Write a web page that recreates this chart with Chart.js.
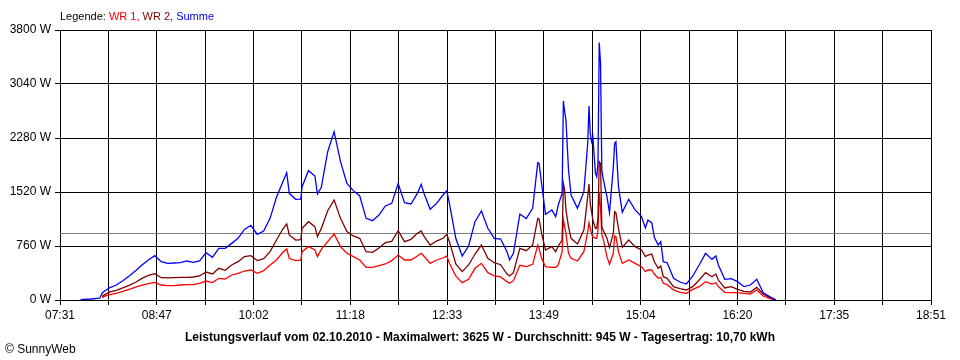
<!DOCTYPE html>
<html>
<head>
<meta charset="utf-8">
<script src="https://cdn.jsdelivr.net/npm/chart.js@4.4.1/dist/chart.umd.min.js"></script>
<style>
  html, body { margin: 0; padding: 0; background: #fff; }
  #wrap { position: relative; width: 960px; height: 360px; }
</style>
</head>
<body>
<div id="wrap"><canvas id="chart" width="960" height="360"></canvas></div>
<script>
// Messzeitpunkte und Leistung in W
const times = [
  '07:47', '07:55', '08:02', '08:04', '08:05', '08:10', '08:15', '08:20', '08:25', '08:30',
  '08:35', '08:40', '08:45', '08:50', '08:55', '09:00', '09:05', '09:10', '09:15', '09:20',
  '09:25', '09:30', '09:35', '09:40', '09:45', '09:50', '09:55', '10:00', '10:05', '10:10',
  '10:15', '10:20', '10:25', '10:28', '10:30', '10:35', '10:39', '10:40', '10:45', '10:50',
  '10:52', '10:55', '11:00', '11:05', '11:10', '11:15', '11:20', '11:25', '11:30', '11:35',
  '11:40', '11:45', '11:50', '11:55', '12:00', '12:05', '12:10', '12:13', '12:15', '12:20',
  '12:25', '12:30', '12:33', '12:35', '12:40', '12:45', '12:50', '12:55', '13:00', '13:05',
  '13:10', '13:15', '13:20', '13:22', '13:25', '13:30', '13:35', '13:40', '13:44', '13:45',
  '13:47', '13:50', '13:55', '13:58', '14:00', '14:03', '14:04', '14:05', '14:06', '14:08',
  '14:10', '14:15', '14:20', '14:23', '14:24', '14:25', '14:26', '14:27', '14:29', '14:30',
  '14:31', '14:32', '14:33', '14:34', '14:35', '14:38', '14:40', '14:43', '14:44', '14:45',
  '14:47', '14:50', '14:55', '15:00', '15:05', '15:08', '15:10', '15:13', '15:15', '15:18',
  '15:20', '15:22', '15:25', '15:30', '15:35', '15:40', '15:45', '15:50', '15:55', '16:00',
  '16:03', '16:05', '16:10', '16:15', '16:20', '16:25', '16:30', '16:35', '16:40', '16:45',
  '16:50'
]
const wr1 = [
  null, null, null, 30, 47, 75, 94, 120, 150, 180,
  210, 232, 249, 211, 202, 202, 211, 216, 216, 235,
  267, 244, 305, 295, 352, 375, 408, 422, 375, 413,
  493, 563, 671, 718, 586, 554, 560, 680, 751, 704,
  610, 713, 821, 929, 751, 657, 610, 563, 460, 460,
  483, 507, 554, 633, 563, 563, 619, 657, 619, 516,
  563, 591, 619, 516, 338, 244, 291, 446, 516, 385,
  338, 324, 258, 235, 272, 488, 469, 502, 774, 727,
  586, 469, 460, 460, 493, 680, 1126, 1032, 938, 657,
  586, 549, 680, 962, 1088, 1009, 929, 891, 868, 868,
  985, 1500, 1300, 915, 868, 610, 502, 657, 901, 891,
  680, 516, 563, 516, 469, 399, 422, 422, 366, 305,
  319, 235, 216, 141, 108, 94, 150, 188, 258, 225,
  244, 188, 108, 103, 103, 94, 84, 141, 56, 23,
  0
]
const wr2 = [
  null, null, null, 50, 65, 115, 135, 170, 205, 250,
  305, 345, 371, 314, 310, 314, 319, 319, 324, 338,
  394, 366, 446, 417, 493, 539, 610, 624, 554, 582,
  680, 844, 999, 1070, 915, 844, 850, 1008, 1102, 1032,
  891, 1008, 1257, 1407, 1149, 962, 901, 868, 680, 671,
  732, 807, 826, 976, 821, 854, 938, 971, 901, 774,
  830, 868, 924, 821, 507, 399, 493, 647, 774, 586,
  525, 497, 366, 338, 385, 727, 694, 774, 1149, 1140,
  938, 704, 751, 680, 760, 844, 1642, 1548, 1267, 1032,
  868, 788, 985, 1454, 1632, 1360, 1243, 1126, 1009, 1009,
  1149, 1947, 1923, 1032, 985, 868, 741, 938, 1243, 1229,
  1009, 741, 844, 751, 704, 610, 633, 647, 539, 446,
  479, 328, 305, 188, 160, 141, 188, 281, 385, 328,
  366, 281, 169, 188, 150, 122, 113, 178, 84, 38,
  0
]
const summe = [
  5, 14, 25, 100, 117, 175, 211, 272, 338, 413,
  492, 563, 624, 539, 516, 521, 525, 549, 530, 549,
  666, 600, 727, 727, 797, 868, 994, 1051, 924, 971,
  1149, 1445, 1665, 1792, 1501, 1417, 1420, 1595, 1820, 1745,
  1492, 1586, 2087, 2369, 1947, 1642, 1539, 1464, 1149, 1116,
  1196, 1323, 1360, 1640, 1370, 1351, 1501, 1628, 1510, 1276,
  1360, 1478, 1539, 1360, 868, 619, 760, 1102, 1253, 1009,
  868, 858, 680, 563, 657, 1210, 1145, 1290, 1933, 1923,
  1642, 1206, 1267, 1173, 1337, 1501, 2800, 2650, 2533, 1829,
  1478, 1290, 1525, 2205, 2730, 2346, 2228, 2299, 1783, 1736,
  1923, 3625, 3326, 1829, 1712, 1454, 1229, 1876, 2205, 2228,
  1595, 1234, 1417, 1267, 1173, 1013, 1126, 1088, 882, 774,
  821, 539, 525, 305, 253, 225, 338, 493, 657, 572,
  619, 493, 291, 300, 258, 188, 211, 291, 103, 47,
  0
]

const xStart = '07:31'
const xEnd = '18:51'
const xTickLabels = ['07:31', '08:47', '10:02', '11:18', '12:33', '13:49', '15:04', '16:20', '17:35', '18:51']
const yTicks = [0, 760, 1520, 2280, 3040, 3800]
const averageW = 945
const titleText = 'Leistungsverlauf vom 02.10.2010 - Maximalwert: 3625 W - Durchschnitt: 945 W - Tagesertrag: 10,70 kWh'
const legendParts = [
  ['Legende: ', '#000000'],
  ['WR 1, ', '#ff0000'],
  ['WR 2, ', '#800000'],
  ['Summe', '#0000ff']
]
const copyrightText = '\u00a9 SunnyWeb'

const FONT = "'Liberation Sans', Arial, sans-serif"

const toMin = (t) => {
  const [h, m] = t.split(':').map(Number)
  return h * 60 + m
}
const points = (values) => times.map((t, i) => ({ x: toMin(t), y: values[i] }))

const xMin = toMin(xStart)
const xMax = toMin(xEnd)
const gridCount = (xTickLabels.length - 1) * 2

const decor = {
  id: 'decor',
  beforeDatasetsDraw(chart) {
    const { ctx, chartArea, scales } = chart
    const y = Math.round(scales.y.getPixelForValue(averageW)) + 0.5
    ctx.save()
    ctx.strokeStyle = '#808080'
    ctx.lineWidth = 1
    ctx.beginPath()
    ctx.moveTo(chartArea.left, y)
    ctx.lineTo(chartArea.right, y)
    ctx.stroke()
    ctx.restore()
  },
  afterDraw(chart) {
    const { ctx } = chart
    ctx.save()
    ctx.textBaseline = 'alphabetic'
    ctx.font = `11px ${FONT}`
    let x = 60
    legendParts.forEach(([text, color]) => {
      ctx.fillStyle = color
      ctx.fillText(text, x, 20)
      x += ctx.measureText(text).width
    })
    ctx.fillStyle = '#000'
    ctx.font = `bold 12px ${FONT}`
    ctx.textAlign = 'center'
    ctx.fillText(titleText, 480, 341)
    ctx.font = `12px ${FONT}`
    ctx.textAlign = 'left'
    ctx.fillText(copyrightText, 5, 353)
    ctx.restore()
  }
}

const line = (label, values, color, order) => ({
  label,
  data: points(values),
  borderColor: color,
  borderWidth: 1.3,
  pointRadius: 0,
  tension: 0,
  fill: false,
  spanGaps: false,
  order
})

new Chart(document.getElementById('chart'), {
  type: 'line',
  data: {
    datasets: [
      line('WR 1', wr1, '#ff0000', 3),
      line('WR 2', wr2, '#800000', 2),
      line('Summe', summe, '#0000ff', 1)
    ]
  },
  options: {
    responsive: false,
    animation: false,
    devicePixelRatio: 1,
    layout: { padding: { left: 0, right: 29, top: 30, bottom: 0 } },
    plugins: {
      legend: { display: false },
      tooltip: { enabled: false },
      title: { display: false }
    },
    scales: {
      x: {
        type: 'linear',
        min: xMin,
        max: xMax,
        afterBuildTicks: (scale) => {
          scale.ticks = Array.from({ length: gridCount + 1 }, (_, i) => ({ value: xMin + i * (xMax - xMin) / gridCount }))
        },
        afterFit: (scale) => { scale.height = 60 },
        ticks: {
          autoSkip: false,
          maxRotation: 0,
          padding: 3,
          color: '#000',
          font: { family: FONT, size: 12 },
          callback: (value, index) => index % 2 === 0 ? xTickLabels[index / 2] : ''
        },
        grid: { color: '#000', lineWidth: 1, tickLength: 5 },
        border: { color: '#000' }
      },
      y: {
        min: 0,
        max: 3800,
        afterBuildTicks: (scale) => {
          scale.ticks = yTicks.map((value) => ({ value }))
        },
        afterFit: (scale) => { scale.width = 60 },
        ticks: {
          padding: 4,
          color: '#000',
          font: { family: FONT, size: 12 },
          callback: (value) => `${value} W`
        },
        grid: { color: '#000', lineWidth: 1, tickLength: 5 },
        border: { color: '#000' }
      }
    }
  },
  plugins: [decor]
})
</script>
</body>
</html>
